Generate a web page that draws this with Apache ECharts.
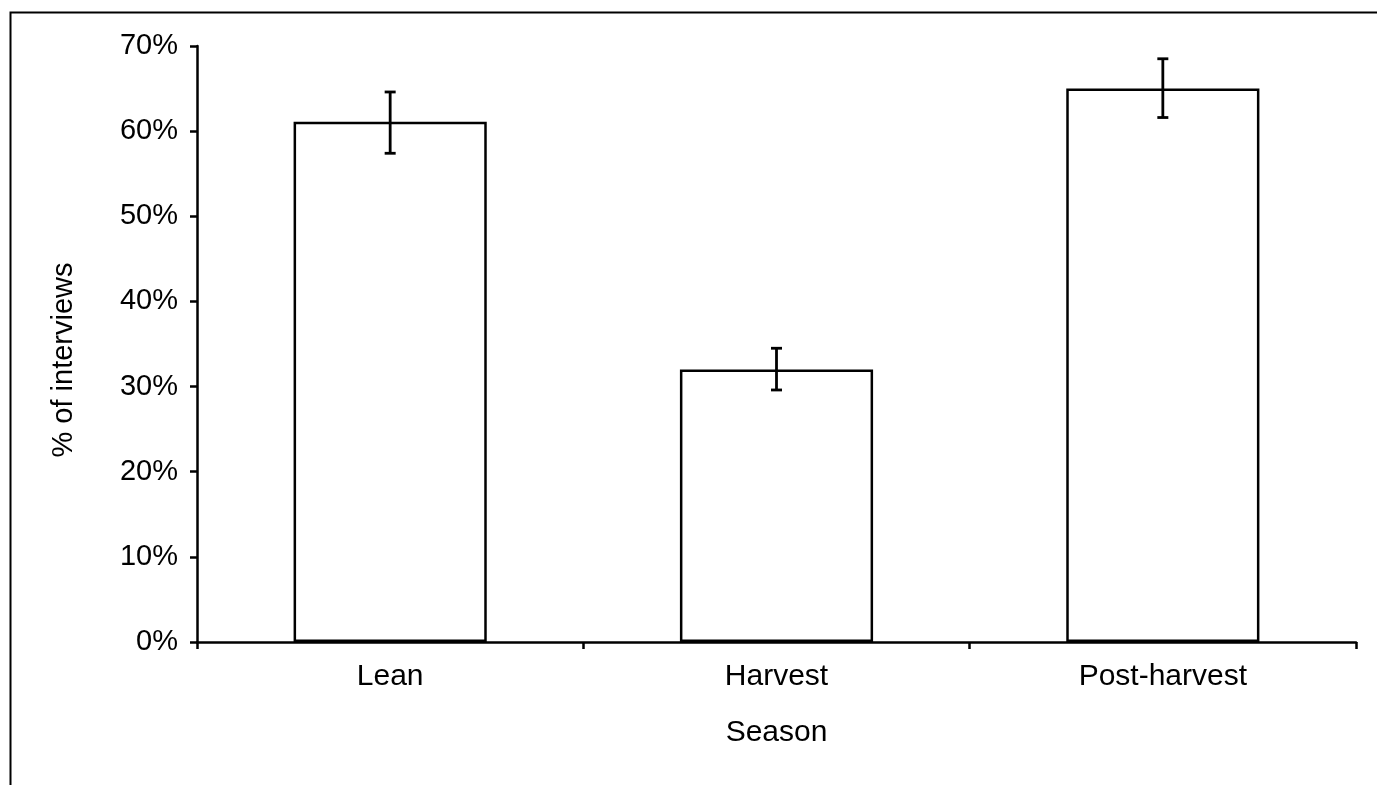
<!DOCTYPE html>
<html><head><meta charset="utf-8">
<script src="https://cdn.jsdelivr.net/npm/echarts@6/dist/echarts.min.js"></script>
<style>html,body{margin:0;padding:0;background:#fff}#c{width:1377px;height:785px}</style>
</head><body><div id="c"></div>
<script>
const categories = ['Lean', 'Harvest', 'Post-harvest'];
const values = [61.1, 32, 65];
const errLow = [57.4, 29.6, 61.6];
const errHigh = [64.6, 34.5, 68.5];
const yTicks = [0, 10, 20, 30, 40, 50, 60, 70];

const chart = echarts.init(document.getElementById('c'));
const F = 'Liberation Sans, Arial, sans-serif';
chart.setOption({
  animation: false,
  backgroundColor: '#fff',
  graphic: [{
    type: 'rect', left: 8, top: 10,
    shape: { width: 1400, height: 800 },
    style: { fill: 'none', stroke: '#000', lineWidth: 2 }, silent: true, z: -1
  }],
  grid: { left: 197, right: 21, top: 46, bottom: 143 },
  xAxis: {
    type: 'category', data: categories,
    name: 'Season', nameLocation: 'middle', nameGap: 76,
    nameTextStyle: { fontFamily: F, fontSize: 30, color: '#000' },
    axisLine: { lineStyle: { color: '#000', width: 2.5 } },
    axisTick: { show: true, length: 7, lineStyle: { color: '#000', width: 2.5 } },
    axisLabel: { fontFamily: F, fontSize: 30, color: '#000', margin: 20 }
  },
  yAxis: {
    type: 'value', min: 0, max: 70, interval: 10,
    name: '% of interviews', nameLocation: 'middle', nameGap: 119,
    nameTextStyle: { fontFamily: F, fontSize: 29, color: '#000', padding: [0, 32, 0, 0] },
    axisLine: { show: true, lineStyle: { color: '#000', width: 2.5 } },
    axisTick: { show: true, length: 7, lineStyle: { color: '#000', width: 2.5 } },
    splitLine: { show: false },
    axisLabel: { fontFamily: F, fontSize: 29, color: '#000', margin: 19,
      formatter: v => yTicks.includes(v) ? v + '%' : '' }
  },
  series: [{
    type: 'bar', data: values, barWidth: '50%',
    itemStyle: { color: '#fff', borderColor: '#000', borderWidth: 2.5 }
  }, {
    type: 'custom',
    data: categories.map((c, i) => [i, errLow[i], errHigh[i]]),
    renderItem: (params, api) => {
      const x = api.value(0);
      const lo = api.coord([x, api.value(1)]);
      const hi = api.coord([x, api.value(2)]);
      const hw = 5.5;
      const st = { stroke: '#000', lineWidth: 2.8 };
      return { type: 'group', children: [
        { type: 'line', shape: { x1: lo[0], y1: lo[1], x2: hi[0], y2: hi[1] }, style: st },
        { type: 'line', shape: { x1: lo[0]-hw, y1: lo[1], x2: lo[0]+hw, y2: lo[1] }, style: st },
        { type: 'line', shape: { x1: hi[0]-hw, y1: hi[1], x2: hi[0]+hw, y2: hi[1] }, style: st }
      ]};
    },
    z: 5
  }]
});
</script></body></html>
